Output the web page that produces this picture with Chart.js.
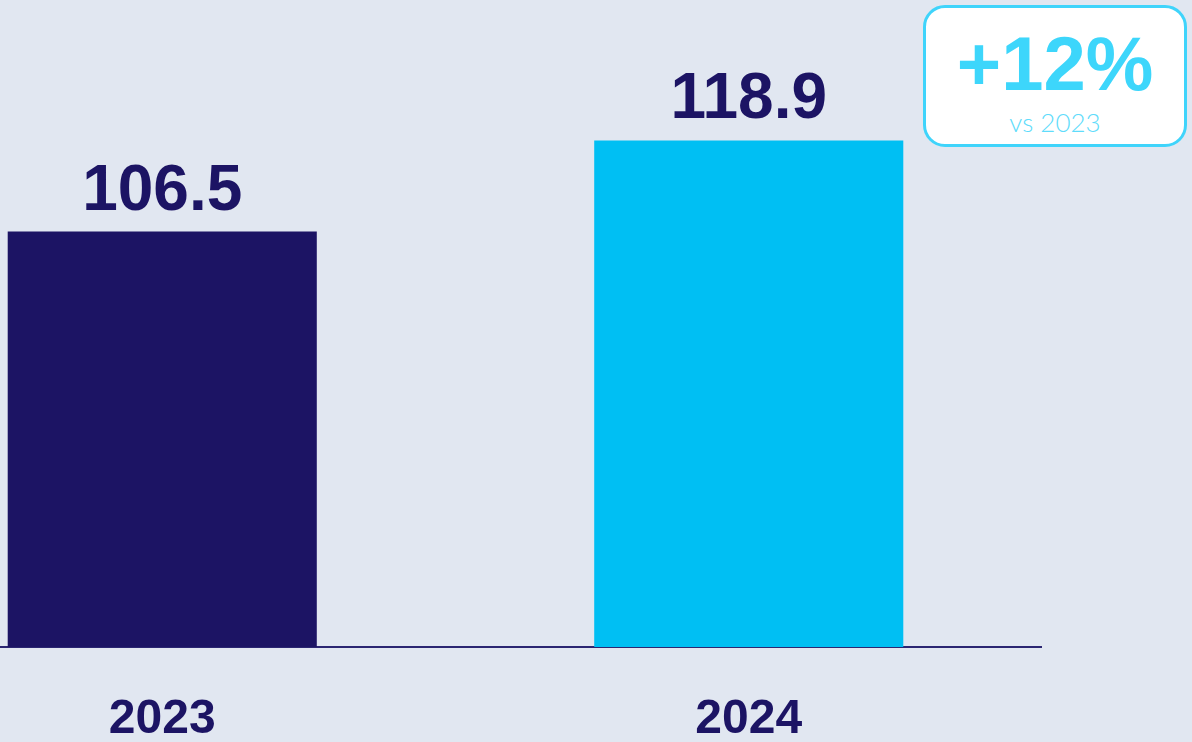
<!DOCTYPE html>
<html>
<head>
<meta charset="utf-8">
<script src="https://cdn.jsdelivr.net/npm/chart.js@4.4.1/dist/chart.umd.min.js"></script>
<style>
  html, body { margin:0; padding:0; width:1192px; height:742px; overflow:hidden; background:#e1e7f1; }
  #wrap { position:absolute; left:-131px; top:0; width:1173px; height:742px; }
  #badge { position:absolute; left:923px; top:5px; width:258px; height:136px; border:3px solid #3fd4fb;
           border-radius:22px; background:#ffffff; text-align:center; box-sizing:content-box; }
  #big { display:block; padding-top:18px; font-family:"Liberation Sans", Arial, sans-serif; font-weight:bold;
         font-size:76px; line-height:76px; color:#3dd6fb; }
  #small { display:block; margin-top:7px; font-family:Lato, "Open Sans", sans-serif; font-weight:300;
           font-size:26px; line-height:26px; color:#5fdcfb; }
</style>
</head>
<body>
<div id="wrap"><canvas id="c"></canvas></div>
<div id="badge"><span id="big">+12%</span><span id="small">vs 2023</span></div>
<script>
const categories = ["2023", "2024"];
const values = [106.5, 118.9];
const barColors = ["#1c1464", "#00bff3"];
const valueLabels = ["106.5", "118.9"];

const valueLabelPlugin = {
  id: 'valueLabels',
  afterDatasetsDraw(chart) {
    const ctx = chart.ctx;
    const meta = chart.getDatasetMeta(0);
    ctx.save();
    ctx.font = 'bold 64px "Liberation Sans", Arial, sans-serif';
    ctx.fillStyle = '#1c1464';
    ctx.textAlign = 'center';
    ctx.textBaseline = 'alphabetic';
    meta.data.forEach((bar, i) => {
      ctx.fillText(valueLabels[i], bar.x, bar.y - 22);
    });
    ctx.restore();
  }
};

new Chart(document.getElementById('c'), {
  type: 'bar',
  data: {
    labels: categories,
    datasets: [{
      data: values,
      backgroundColor: barColors,
      borderWidth: 0,
      barPercentage: 0.527,
      categoryPercentage: 1.0
    }]
  },
  options: {
    responsive: true,
    maintainAspectRatio: false,
    animation: false,
    layout: { padding: 0 },
    plugins: { legend: { display: false }, tooltip: { enabled: false } },
    scales: {
      x: {
        offset: true,
        grid: { display: false, drawTicks: false },
        border: { display: true, color: '#2b2672', width: 2 },
        ticks: {
          color: '#1c1464',
          padding: 44,
          font: { family: '"Liberation Sans", Arial, sans-serif', weight: 'bold', size: 48 }
        },
        afterFit(scale) { scale.height = 95; }
      },
      y: {
        display: false,
        min: 50,
        max: 138
      }
    }
  },
  plugins: [valueLabelPlugin]
});
</script>
</body>
</html>
